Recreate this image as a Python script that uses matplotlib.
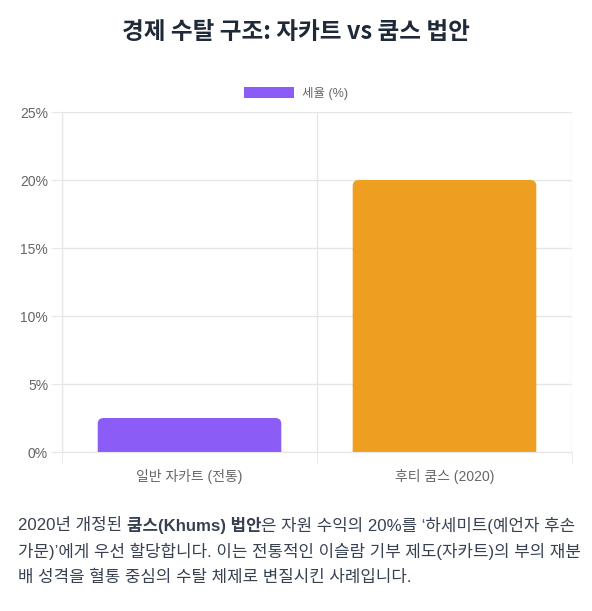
import matplotlib
matplotlib.use("Agg")
import matplotlib.pyplot as plt
from matplotlib.patches import FancyBboxPatch, Patch
from matplotlib.ticker import FixedLocator, FuncFormatter

plt.rcParams['font.family'] = ['Liberation Sans', 'Noto Sans CJK KR', 'DejaVu Sans']

categories = ['일반 자카트 (전통)', '후티 쿰스 (2020)']
rates = [2.5, 20]
series_label = '세율 (%)'
y_ticks = [0, 5, 10, 15, 20, 25]
title = '경제 수탈 구조: 자카트 vs 쿰스 법안'
colors = ['#8B5CF6', '#EE9F22']

W, H = 592, 611
fig = plt.figure(figsize=(W / 100, H / 100), dpi=100)
ax = fig.add_axes([62 / W, (H - 452) / H, 510 / W, 340 / H])

x = list(range(len(categories)))
bars = ax.bar(x, rates, width=0.72, color=colors)
ax.set_xlim(-0.5, len(categories) - 0.5)
ax.set_ylim(0, 25)

# rounded top corners
px_per_x = 510 / (len(categories))
px_per_y = 340 / 25
r_px = 6
rx = r_px / px_per_x
ry = r_px / px_per_y
for b, c in zip(bars, colors):
    bx, by, bw, bh = b.get_x(), b.get_y(), b.get_width(), b.get_height()
    b.set_visible(False)
    p = FancyBboxPatch((bx, by - ry), bw, bh + ry,
                       boxstyle=f"round,pad=0,rounding_size={rx}",
                       mutation_aspect=ry / rx, facecolor=c, edgecolor='none',
                       clip_on=True)
    ax.add_patch(p)

ax.yaxis.set_major_locator(FixedLocator(y_ticks))
ax.yaxis.set_major_formatter(FuncFormatter(lambda v, _: f"{int(v)}%"))
ax.set_xticks(x)
ax.set_xticklabels(categories)
ax.set_xticks([i - 0.5 for i in range(len(categories) + 1)], minor=True)

ax.grid(axis='y', which='major', color='#E6E6E6', linewidth=1)
ax.grid(axis='x', which='minor', color='#E6E6E6', linewidth=1)
ax.set_axisbelow(True)
ax.tick_params(axis='y', which='major', length=8, color='#E6E6E6', labelsize=10, labelcolor='#666666', pad=2)
ax.tick_params(axis='x', which='major', length=0, labelsize=10, labelcolor='#666666', pad=12)
ax.tick_params(axis='x', which='minor', length=8, color='#E6E6E6')
for s in ['top', 'right']:
    ax.spines[s].set_visible(False)
ax.spines['left'].set_color('#E6E6E6')
ax.spines['bottom'].set_color('#E6E6E6')

leg = fig.legend(handles=[Patch(facecolor=colors[0], edgecolor='none', label=series_label)],
                 loc='center', bbox_to_anchor=(296 / W, 1 - 93 / H), frameon=False,
                 fontsize=9, handlelength=4.0, handleheight=1.0, handletextpad=0.6)
for t in leg.get_texts():
    t.set_color('#666666')

fig.text(296 / W, 1 - 32 / H, title, ha='center', va='center',
         fontsize=17, fontweight='bold', color='#1F2937',
         family=['Noto Sans CJK KR', 'DejaVu Sans'])

# paragraph with bold segments
lines = [
    [('2020년 개정된 ', 'normal'), ('쿰스(Khums) 법안', 'bold'),
     ('은 자원 수익의 20%를 ‘하세미트(예언자 후손', 'normal')],
    [('가문)’에게 우선 할당합니다. 이는 전통적인 이슬람 기부 제도(자카트)의 부의 재분', 'normal')],
    [('배 성격을 혈통 중심의 수탈 체제로 변질시킨 사례입니다.', 'normal')],
]
line_y = [525, 551, 577]
fig.canvas.draw()
renderer = fig.canvas.get_renderer()
for segs, yy in zip(lines, line_y):
    xpix = 18
    for txt, wt in segs:
        t = fig.text(xpix / W, 1 - yy / H, txt, ha='left', va='center',
                     fontsize=12.1, fontweight=wt, color='#374151')
        bb = t.get_window_extent(renderer=renderer)
        xpix += bb.width

fig.savefig('out.png', dpi=100)
